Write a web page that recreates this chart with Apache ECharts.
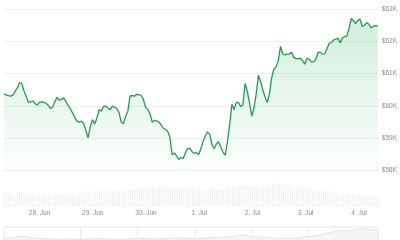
<!DOCTYPE html>
<html>
<head>
<meta charset="utf-8">
<script src="https://cdn.jsdelivr.net/npm/echarts@6/dist/echarts.min.js"></script>
<style>html,body{margin:0;padding:0;background:#fff;}#c{width:400px;height:240px;}</style>
</head>
<body>
<div id="c"></div>
<script>
// hourly data, first point = 27 Jun 08:00 (hour -16 relative to 28 Jun 00:00)
const firstHour = -16;
const dayLabels = ['28. Jun', '29. Jun', '30. Jun', '1. Jul', '2. Jul', '3. Jul', '4. Jul'];
const yTicks = [58000, 59000, 60000, 61000, 62000, 63000];

const prices = [
  60360,60340,60315,60300,60330,60455,60550,60720,60700,60470,
  60300,60110,60125,60150,60070,60020,60110,60125,60110,60080,
  60020,59920,59960,60130,60265,60175,60200,60250,60130,60010,
  59910,59780,59630,59520,59490,59520,59450,59240,59000,59340,
  59570,59430,59620,59880,59830,59980,59990,59930,59880,59990,
  59960,59910,59790,59490,59440,59670,59840,60310,60320,60300,
  60360,60350,60320,60210,59950,59880,59760,59490,59550,59520,
  59500,59410,59300,59270,59210,59020,58480,58530,58440,58330,
  58390,58360,58530,58670,58670,58570,58520,58540,58480,58660,
  58890,59060,59190,59110,58800,58660,58810,58880,58720,58560,
  58460,58880,59400,60050,59880,60100,60110,59970,60030,60700,
  60450,60090,59680,59930,60360,60950,60760,60490,60280,60100,
  60380,60870,61140,61220,61400,61850,61620,61590,61610,61610,
  61670,61510,61470,61470,61480,61400,61300,61480,61450,61370,
  61370,61450,61660,61670,61610,61620,61780,61950,61970,62050,
  62080,62100,61960,62110,62160,62170,62420,62720,62650,62560,
  62660,62700,62470,62510,62590,62540,62430,62480,62500,62490
];

const volumes = [
  58,52,60,55,62,50,57,63,54,59,
  52,48,55,50,47,53,49,56,51,46,
  50,55,48,53,57,52,49,54,58,51,
  56,60,54,62,58,64,59,66,61,57,
  63,68,60,70,65,72,67,62,69,71,
  66,73,70,75,68,77,72,74,69,76,
  78,72,80,75,82,74,79,83,76,81,
  77,84,79,86,80,75,82,78,85,80,
  74,81,77,72,79,83,76,70,78,73,
  71,76,69,74,79,72,77,70,75,68,
  80,85,78,88,82,90,84,87,92,86,
  91,88,95,89,93,97,90,94,86,92,
  95,99,92,97,100,94,98,91,96,88,
  84,80,87,79,83,76,81,74,78,72,
  70,75,68,72,65,69,62,66,60,64,
  58,62,55,60,53,57,50,56,52,48,
  54,49,52,47,51,45,50,46,49,44
];

// navigator (longer period overview)
const navValues = [12,18,30,16,10,8,6,7,5,8,10,7,5,8,12,10,8,12,15,13,
                   10,14,18,22,28,38,26,20,16,14,12,18,30,42,56,72,70,86,82,76];
const navMonthLines = [7.9, 13.9, 19.9, 25.9, 31.6];

const hours = prices.map((_, i) => firstHour + i);
const cats = hours.map(h => String(h));
const navX = navValues.map((_, i) => i);

const chart = echarts.init(document.getElementById('c'), null, {renderer: 'canvas'});
const font = 'Liberation Sans, Arial, sans-serif';
chart.setOption({
  animation: false,
  grid: [
    {left: 4, right: 21, top: 9.5, height: 160.5},
    {left: 4, right: 21, top: 183, height: 24},
    {left: 4, right: 22, top: 227, height: 20, show: true, borderColor: '#e6e6e6', borderWidth: 1}
  ],
  xAxis: [
    {gridIndex: 0, type: 'category', data: cats, boundaryGap: false,
     axisLine: {show: false}, axisTick: {show: false}, axisLabel: {show: false}, splitLine: {show: false}},
    {gridIndex: 1, type: 'category', data: cats, boundaryGap: false,
     axisLine: {show: false}, axisTick: {show: false}, splitLine: {show: false},
     axisLabel: {
       interval: (idx, val) => Number(val) % 24 === 0,
       formatter: val => dayLabels[Number(val) / 24] || '',
       fontSize: 6.5, color: '#8a8a8a', margin: 3, fontFamily: font
     }},
    {gridIndex: 2, type: 'value', min: 0, max: navValues.length - 1,
     axisLine: {show: false}, axisTick: {show: false}, axisLabel: {show: false}, splitLine: {show: false}}
  ],
  yAxis: [
    {gridIndex: 0, type: 'value', position: 'right', min: yTicks[0], max: yTicks[yTicks.length - 1], interval: 1000,
     axisLine: {show: false}, axisTick: {show: false},
     splitLine: {lineStyle: {color: '#f0f0f0', width: 1}},
     axisLabel: {formatter: v => '$' + (v / 1000) + 'K', fontSize: 6.5, color: '#8a8a8a', margin: 4, fontFamily: font}},
    {gridIndex: 1, type: 'value', min: 0, max: 100, show: false},
    {gridIndex: 2, type: 'value', min: 0, max: 100, show: false}
  ],
  series: [
    {type: 'line', xAxisIndex: 0, yAxisIndex: 0, data: prices, showSymbol: false, symbol: 'none',
     lineStyle: {color: '#1e9e4e', width: 1.3},
     areaStyle: {origin: 'start', color: new echarts.graphic.LinearGradient(0, 0, 0, 1, [
       {offset: 0, color: 'rgba(40,175,90,0.30)'},
       {offset: 1, color: 'rgba(40,175,90,0.02)'}
     ])}},
    {type: 'bar', xAxisIndex: 1, yAxisIndex: 1, data: volumes, barWidth: 1,
     itemStyle: {color: '#efefef'}},
    {type: 'line', xAxisIndex: 2, yAxisIndex: 2, data: navX.map((x, i) => [x, navValues[i]]),
     showSymbol: false, symbol: 'none', smooth: 0.3,
     lineStyle: {color: '#e2e2e2', width: 1},
     areaStyle: {color: '#f2f2f2'},
     markLine: {silent: true, symbol: 'none', label: {show: false},
       lineStyle: {color: '#ececec', type: 'solid', width: 1},
       data: navMonthLines.map(v => ({xAxis: v}))}}
  ]
});
</script>
</body>
</html>
